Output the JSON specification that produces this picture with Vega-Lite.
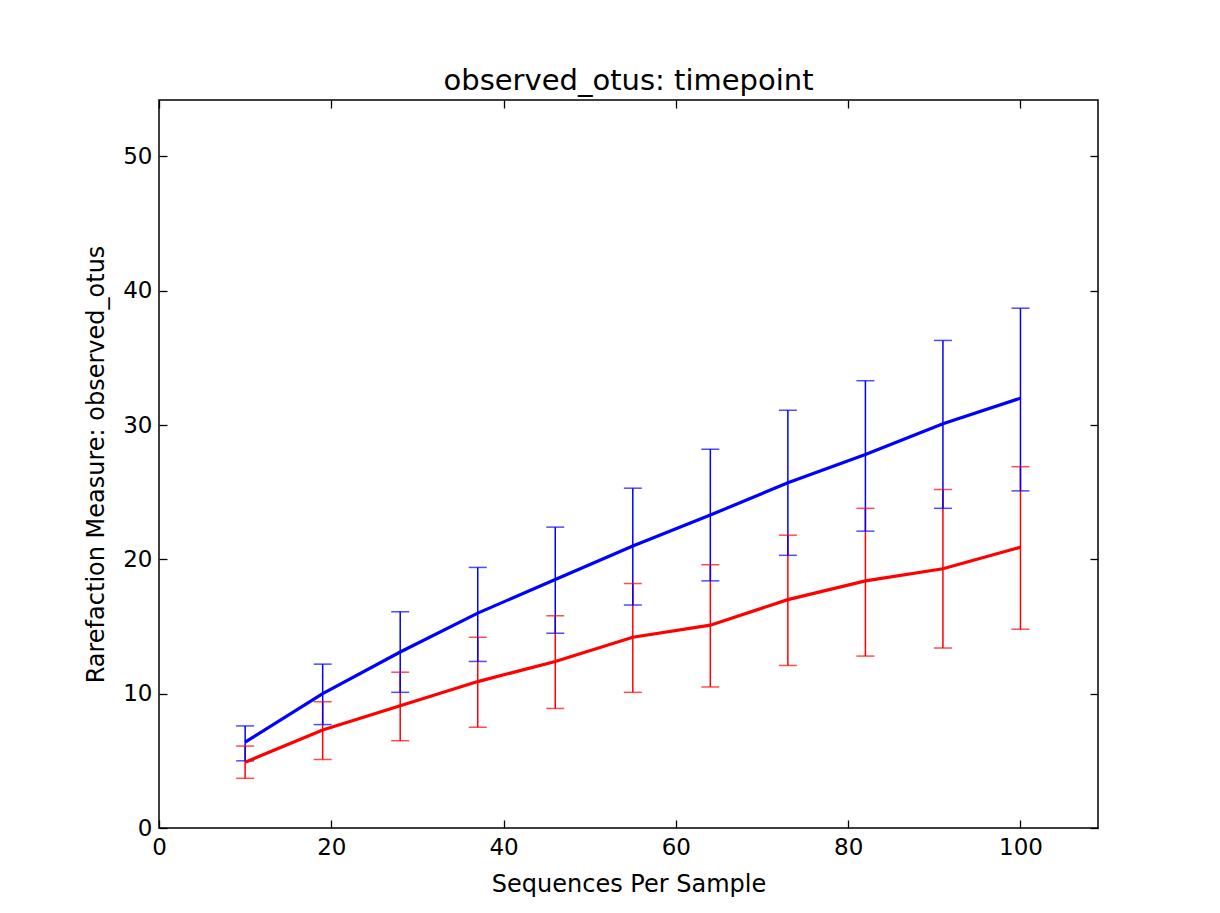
{
  "$schema": "https://vega.github.io/schema/vega-lite/v6.json",
  "autosize": {"type": "none"},
  "padding": {"left": 159, "top": 100, "right": 122, "bottom": 85},
  "width": 939,
  "height": 728,
  "background": "white",
  "title": {
    "text": "observed_otus: timepoint",
    "font": "DejaVu Sans",
    "fontSize": 29,
    "fontWeight": "normal",
    "color": "black",
    "anchor": "middle",
    "offset": 3
  },
  "config": {
    "view": {"stroke": "black", "strokeWidth": 1.5},
    "axis": {
      "grid": false,
      "domain": false,
      "tickColor": "black",
      "tickWidth": 1.3,
      "tickSize": -8,
      "labelFlush": false,
      "labelFont": "DejaVu Sans",
      "labelFontSize": 23,
      "labelColor": "black",
      "titleFont": "DejaVu Sans",
      "titleFontSize": 24,
      "titleFontWeight": "normal",
      "titleColor": "black"
    }
  },
  "data": {
    "values": [
      {"seq": 10, "group": "B", "mean": 4.9, "lower": 3.7, "upper": 6.1},
      {"seq": 19, "group": "B", "mean": 7.3, "lower": 5.1, "upper": 9.4},
      {"seq": 28, "group": "B", "mean": 9.1, "lower": 6.5, "upper": 11.6},
      {"seq": 37, "group": "B", "mean": 10.9, "lower": 7.5, "upper": 14.2},
      {"seq": 46, "group": "B", "mean": 12.4, "lower": 8.9, "upper": 15.8},
      {"seq": 55, "group": "B", "mean": 14.2, "lower": 10.1, "upper": 18.2},
      {"seq": 64, "group": "B", "mean": 15.1, "lower": 10.5, "upper": 19.6},
      {"seq": 73, "group": "B", "mean": 17.0, "lower": 12.1, "upper": 21.8},
      {"seq": 82, "group": "B", "mean": 18.4, "lower": 12.8, "upper": 23.8},
      {"seq": 91, "group": "B", "mean": 19.3, "lower": 13.4, "upper": 25.2},
      {"seq": 100, "group": "B", "mean": 20.9, "lower": 14.8, "upper": 26.9},
      {"seq": 10, "group": "A", "mean": 6.4, "lower": 5.0, "upper": 7.6},
      {"seq": 19, "group": "A", "mean": 10.0, "lower": 7.7, "upper": 12.2},
      {"seq": 28, "group": "A", "mean": 13.1, "lower": 10.1, "upper": 16.1},
      {"seq": 37, "group": "A", "mean": 16.0, "lower": 12.4, "upper": 19.4},
      {"seq": 46, "group": "A", "mean": 18.5, "lower": 14.5, "upper": 22.4},
      {"seq": 55, "group": "A", "mean": 21.0, "lower": 16.6, "upper": 25.3},
      {"seq": 64, "group": "A", "mean": 23.3, "lower": 18.4, "upper": 28.2},
      {"seq": 73, "group": "A", "mean": 25.7, "lower": 20.3, "upper": 31.1},
      {"seq": 82, "group": "A", "mean": 27.8, "lower": 22.1, "upper": 33.3},
      {"seq": 91, "group": "A", "mean": 30.1, "lower": 23.8, "upper": 36.3},
      {"seq": 100, "group": "A", "mean": 32.0, "lower": 25.1, "upper": 38.7}
    ]
  },
  "layer": [
    {
      "encoding": {
        "x": {
          "field": "seq",
          "type": "quantitative",
          "scale": {"domain": [0, 109], "nice": false, "zero": false},
          "axis": {"values": [0, 20, 40, 60, 80, 100], "title": "Sequences Per Sample", "labelPadding": 16, "titlePadding": 13}
        },
        "color": {
          "field": "group",
          "type": "nominal",
          "scale": {"domain": ["B", "A"], "range": ["#ff0000", "#0000ff"]},
          "legend": null
        }
      },
      "layer": [
        {
          "mark": {"type": "rule", "strokeWidth": 1.5},
          "encoding": {
            "y": {
              "field": "lower",
              "type": "quantitative",
              "scale": {"domain": [0, 54.2], "nice": false},
              "axis": {"values": [0, 10, 20, 30, 40, 50], "title": "Rarefaction Measure: observed_otus", "labelPadding": 15, "titlePadding": 14}
            },
            "y2": {"field": "upper"}
          }
        },
        {
          "mark": {"type": "tick", "orient": "horizontal", "size": 18, "thickness": 1.5},
          "encoding": {"y": {"field": "upper", "type": "quantitative"}}
        },
        {
          "mark": {"type": "tick", "orient": "horizontal", "size": 18, "thickness": 1.5},
          "encoding": {"y": {"field": "lower", "type": "quantitative"}}
        },
        {
          "mark": {"type": "line", "strokeWidth": 3.2},
          "encoding": {"y": {"field": "mean", "type": "quantitative"}}
        }
      ]
    },
    {
      "mark": {"type": "point", "opacity": 0},
      "encoding": {
        "x": {
          "field": "seq",
          "type": "quantitative",
          "axis": {"orient": "top", "values": [0, 20, 40, 60, 80, 100], "labels": false, "title": null}
        },
        "y": {
          "field": "mean",
          "type": "quantitative",
          "axis": {"orient": "right", "values": [0, 10, 20, 30, 40, 50], "labels": false, "title": null}
        }
      }
    }
  ],
  "resolve": {"axis": {"x": "independent", "y": "independent"}}
}
